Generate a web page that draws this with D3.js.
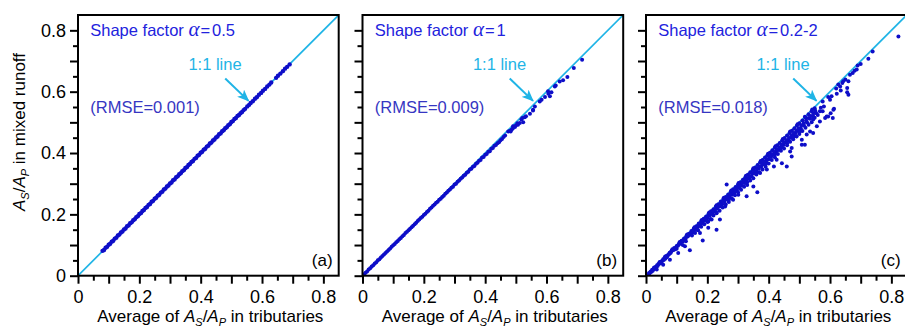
<!DOCTYPE html>
<html><head><meta charset="utf-8">
<script src="https://cdn.jsdelivr.net/npm/d3@7"></script>
<style>
body{margin:0;background:#fff}
svg{display:block}
text{font-family:"Liberation Sans",Arial,Helvetica,sans-serif}
</style>
</head><body>
<svg id="chart" width="905" height="328"></svg>
<script>
// ---------------- DATA ----------------
const majorTicks = [0, 0.1, 0.2, 0.3, 0.4, 0.5, 0.6, 0.7, 0.8];
const minorTicks = [0.05, 0.15, 0.25, 0.35, 0.45, 0.55, 0.65, 0.75];
const labelledTicks = [0, 0.2, 0.4, 0.6, 0.8];
const tickLabels = ["0", "0.2", "0.4", "0.6", "0.8"];
const panelLetters = ["(a)", "(b)", "(c)"];
const shapeFactorValues = ["0.5", "1", "0.2-2"];
const rmseValues = ["0.001", "0.009", "0.018"];

// Panel (a): alpha = 0.5  [average in tributaries, mixed runoff]
const pointsA = [
[0.080,0.081],[0.085,0.084],[0.090,0.091],[0.095,0.094],[0.100,0.101],[0.105,0.104],[0.110,0.111],[0.115,0.114],
[0.120,0.121],[0.125,0.124],[0.130,0.131],[0.135,0.134],[0.140,0.141],[0.145,0.144],[0.150,0.151],[0.155,0.154],
[0.160,0.161],[0.165,0.164],[0.170,0.171],[0.175,0.174],[0.180,0.181],[0.185,0.184],[0.190,0.191],[0.195,0.194],
[0.200,0.201],[0.205,0.204],[0.210,0.211],[0.215,0.214],[0.220,0.221],[0.225,0.224],[0.230,0.231],[0.235,0.234],
[0.240,0.241],[0.245,0.244],[0.250,0.251],[0.255,0.254],[0.260,0.261],[0.265,0.264],[0.270,0.271],[0.275,0.274],
[0.280,0.281],[0.285,0.284],[0.290,0.291],[0.295,0.294],[0.300,0.301],[0.305,0.304],[0.310,0.311],[0.315,0.314],
[0.320,0.321],[0.325,0.324],[0.330,0.331],[0.335,0.334],[0.340,0.341],[0.345,0.344],[0.350,0.351],[0.355,0.354],
[0.360,0.361],[0.365,0.364],[0.370,0.371],[0.375,0.374],[0.380,0.381],[0.385,0.384],[0.390,0.391],[0.395,0.394],
[0.400,0.401],[0.405,0.404],[0.410,0.411],[0.415,0.414],[0.420,0.421],[0.425,0.424],[0.430,0.431],[0.435,0.434],
[0.440,0.441],[0.445,0.444],[0.450,0.451],[0.455,0.454],[0.460,0.461],[0.465,0.464],[0.470,0.471],[0.475,0.474],
[0.480,0.481],[0.485,0.484],[0.490,0.491],[0.495,0.494],[0.500,0.501],[0.505,0.504],[0.510,0.511],[0.515,0.514],
[0.520,0.521],[0.525,0.524],[0.530,0.530],[0.535,0.534],[0.540,0.540],[0.545,0.544],
[0.552,0.552],[0.558,0.557],[0.563,0.563],[0.570,0.569],[0.577,0.577],[0.583,0.582],[0.590,0.590],[0.597,0.596],
[0.603,0.603],[0.610,0.609],[0.617,0.617],[0.624,0.623],[0.630,0.630],[0.646,0.645],[0.652,0.652],[0.660,0.659],
[0.668,0.667],[0.675,0.675],[0.682,0.681],[0.690,0.689]
];

// Panel (b): alpha = 1
const pointsB = [
[0.005,0.005],[0.010,0.010],[0.015,0.014],[0.020,0.020],[0.025,0.024],[0.030,0.030],[0.035,0.034],[0.040,0.040],
[0.045,0.044],[0.050,0.050],[0.055,0.054],[0.060,0.059],[0.065,0.064],[0.070,0.069],[0.075,0.074],[0.080,0.079],
[0.085,0.084],[0.090,0.089],[0.095,0.094],[0.100,0.099],[0.105,0.103],[0.110,0.109],[0.115,0.113],[0.120,0.119],
[0.125,0.123],[0.130,0.129],[0.135,0.133],[0.140,0.139],[0.145,0.143],[0.150,0.148],[0.155,0.153],[0.160,0.158],
[0.165,0.163],[0.170,0.168],[0.175,0.173],[0.180,0.178],[0.185,0.183],[0.190,0.188],[0.195,0.192],[0.200,0.198],
[0.205,0.202],[0.210,0.208],[0.215,0.212],[0.220,0.218],[0.225,0.222],[0.230,0.228],[0.235,0.232],[0.240,0.238],
[0.245,0.241],[0.250,0.248],[0.255,0.251],[0.260,0.257],[0.265,0.261],[0.270,0.267],[0.275,0.271],[0.280,0.277],
[0.285,0.281],[0.290,0.287],[0.295,0.290],[0.300,0.297],[0.305,0.300],[0.310,0.306],[0.315,0.310],[0.320,0.316],
[0.325,0.320],[0.330,0.326],[0.335,0.329],[0.340,0.336],[0.345,0.339],[0.350,0.346],[0.355,0.349],[0.360,0.355],
[0.365,0.358],[0.370,0.365],[0.375,0.368],[0.380,0.375],[0.385,0.377],[0.390,0.385],[0.395,0.387],[0.400,0.394],
[0.405,0.397],[0.410,0.404],[0.415,0.406],[0.420,0.414],[0.425,0.416],[0.430,0.424],[0.435,0.426],[0.440,0.432],
[0.445,0.435],[0.450,0.442],[0.455,0.446],[0.460,0.452],[0.465,0.457],
[0.475,0.470],[0.480,0.472],[0.483,0.470],[0.486,0.476],[0.490,0.480],[0.491,0.487],[0.497,0.485],[0.500,0.490],
[0.505,0.497],[0.507,0.492],[0.513,0.498],[0.518,0.509],[0.521,0.514],[0.524,0.500],[0.529,0.517],[0.533,0.520],
[0.546,0.528],[0.556,0.539],[0.556,0.541],[0.562,0.552],[0.578,0.568],[0.584,0.574],[0.595,0.583],[0.605,0.601],
[0.606,0.593],[0.611,0.585],[0.616,0.598],[0.627,0.617],[0.630,0.620],[0.643,0.633],[0.654,0.637],[0.668,0.648],
[0.689,0.677],[0.716,0.704]
];

// Panel (c): alpha = 0.2-2
const pointsC = [
[0.005,0.004],[0.010,0.009],[0.012,0.008],[0.015,0.014],[0.018,0.013],[0.020,0.019],[0.024,0.020],[0.027,0.025],
[0.030,0.028],[0.033,0.026],[0.036,0.034],[0.040,0.037],[0.043,0.039],[0.046,0.045],[0.050,0.046],[0.053,0.048],
[0.056,0.054],[0.060,0.057],[0.063,0.055],[0.066,0.064],[0.070,0.066],[0.073,0.068],[0.077,0.075],[0.080,0.074],
[0.084,0.082],[0.088,0.083],[0.092,0.090],[0.095,0.086],[0.100,0.097],[0.104,0.098],[0.108,0.106],[0.112,0.104],
[0.116,0.114],[0.120,0.112],[0.124,0.121],[0.128,0.118],[0.132,0.130],[0.136,0.128],[0.140,0.137],[0.144,0.134],
[0.148,0.146],[0.152,0.141],[0.156,0.154],[0.160,0.150],[0.164,0.161],[0.168,0.158],[0.172,0.170],[0.176,0.163],
[0.180,0.178],[0.184,0.172],[0.188,0.186],[0.192,0.180],[0.196,0.193],[0.200,0.187],[0.204,0.202],[0.208,0.196],
[0.212,0.210],[0.216,0.203],[0.220,0.217],[0.224,0.209],[0.228,0.226],[0.232,0.218],[0.236,0.233],[0.240,0.226],
[0.244,0.242],[0.248,0.233],[0.252,0.250],[0.256,0.240],[0.260,0.257],[0.264,0.249],[0.268,0.265],[0.272,0.255],
[0.276,0.273],[0.280,0.264],[0.284,0.282],[0.288,0.270],[0.292,0.289],[0.296,0.279],[0.300,0.297],[0.304,0.286],
[0.308,0.305],[0.312,0.293],[0.316,0.313],[0.320,0.302],[0.324,0.321],[0.328,0.309],[0.332,0.329],[0.336,0.318],
[0.340,0.337],[0.344,0.324],[0.348,0.345],[0.352,0.333],[0.356,0.353],[0.360,0.340],[0.364,0.361],[0.368,0.349],
[0.372,0.369],[0.376,0.356],[0.380,0.377],[0.384,0.364],[0.388,0.385],[0.392,0.371],[0.396,0.393],[0.400,0.380],
[0.404,0.401],[0.408,0.388],[0.412,0.409],[0.416,0.395],[0.420,0.417],[0.424,0.404],[0.428,0.425],[0.432,0.410],
[0.436,0.433],[0.440,0.420],[0.444,0.441],[0.448,0.426],[0.452,0.449],[0.456,0.435],[0.460,0.457],[0.464,0.442],
[0.468,0.465],[0.472,0.450],[0.476,0.473],[0.480,0.458],[0.484,0.481],[0.488,0.465],[0.492,0.489],[0.496,0.472],
[0.500,0.497],[0.505,0.480],[0.510,0.506],[0.515,0.490],[0.520,0.516],[0.525,0.500],[0.530,0.526],[0.535,0.512],
[0.540,0.536],[0.545,0.520],[0.550,0.546],[0.555,0.530],
[0.022,0.016],[0.038,0.032],[0.048,0.041],[0.058,0.051],[0.068,0.060],[0.075,0.070],[0.082,0.078],[0.090,0.085],
[0.098,0.092],[0.106,0.101],[0.114,0.109],[0.122,0.115],[0.130,0.124],[0.138,0.131],[0.146,0.139],[0.154,0.147],
[0.162,0.155],[0.170,0.163],[0.178,0.171],[0.186,0.178],[0.194,0.186],[0.202,0.194],[0.210,0.201],[0.218,0.210],
[0.226,0.217],[0.234,0.225],[0.242,0.232],[0.250,0.241],[0.258,0.248],[0.266,0.256],[0.274,0.263],[0.282,0.272],
[0.290,0.279],[0.298,0.287],[0.306,0.294],[0.314,0.303],[0.322,0.310],[0.330,0.318],[0.338,0.325],[0.346,0.334],
[0.354,0.341],[0.362,0.349],[0.370,0.356],[0.378,0.365],[0.386,0.372],[0.394,0.380],[0.402,0.387],[0.410,0.396],
[0.418,0.403],[0.426,0.411],[0.434,0.418],[0.442,0.427],[0.450,0.434],[0.458,0.442],[0.466,0.449],[0.474,0.458],
[0.482,0.465],[0.490,0.473],[0.498,0.481],[0.506,0.490],[0.514,0.497],[0.522,0.506],[0.530,0.514],[0.538,0.521],
[0.546,0.530],[0.552,0.538],
[0.026,0.026],[0.044,0.044],[0.062,0.062],[0.086,0.086],[0.110,0.110],[0.134,0.134],[0.158,0.158],[0.182,0.182],
[0.206,0.206],[0.230,0.230],[0.254,0.254],[0.278,0.278],[0.302,0.302],[0.326,0.326],[0.350,0.350],[0.374,0.374],
[0.398,0.398],[0.422,0.422],[0.446,0.446],[0.470,0.470],[0.494,0.494],[0.518,0.518],[0.542,0.542],
[0.100,0.088],[0.130,0.112],[0.150,0.131],[0.170,0.148],[0.190,0.168],[0.210,0.185],[0.230,0.205],[0.250,0.222],
[0.270,0.240],[0.290,0.262],[0.310,0.280],[0.330,0.296],[0.350,0.318],[0.370,0.337],[0.390,0.355],[0.410,0.377],
[0.430,0.397],[0.450,0.415],[0.470,0.437],[0.490,0.455],[0.510,0.472],[0.530,0.492],[0.220,0.196],[0.260,0.232],
[0.340,0.310],[0.380,0.346],[0.420,0.386],[0.460,0.425],[0.480,0.445],[0.440,0.407],[0.320,0.290],[0.280,0.252],
[0.120,0.100],[0.160,0.139],[0.180,0.160],[0.200,0.175],[0.240,0.212],[0.270,0.248],[0.300,0.272],[0.330,0.305],
[0.360,0.330],[0.390,0.364],[0.400,0.366],[0.420,0.395],[0.440,0.418],[0.460,0.432],[0.480,0.452],[0.500,0.462],
[0.520,0.482],[0.540,0.500],[0.550,0.515],[0.560,0.524],[0.570,0.548],[0.580,0.552],[0.600,0.574],[0.620,0.610],
[0.640,0.628],[0.650,0.640],[0.680,0.668],[0.690,0.685],[0.700,0.690],
[0.823,0.780],[0.739,0.731],[0.725,0.707],[0.687,0.672],[0.674,0.661],[0.665,0.655],[0.660,0.634],[0.643,0.634],
[0.633,0.617],[0.627,0.623],[0.656,0.612],[0.656,0.598],[0.660,0.590],[0.635,0.604],[0.622,0.593],[0.605,0.585],
[0.594,0.583],[0.576,0.568],[0.613,0.544],[0.602,0.530],[0.609,0.514],[0.594,0.519],[0.576,0.536],[0.584,0.514],
[0.557,0.487],[0.567,0.503],[0.545,0.509],[0.524,0.460],[0.508,0.427],[0.491,0.454],[0.475,0.416],
[0.363,0.272],[0.328,0.259],[0.263,0.297],[0.230,0.150],[0.241,0.183],[0.185,0.115],[0.143,0.083],[0.203,0.156],
[0.203,0.177],[0.611,0.541],[0.589,0.519],[0.567,0.536],[0.475,0.389],[0.470,0.405],[0.459,0.356],[0.443,0.367],
[0.426,0.378],[0.417,0.356],[0.404,0.389],[0.394,0.346],[0.372,0.335],[0.508,0.443],[0.518,0.427],[0.502,0.470],
[0.535,0.470],[0.545,0.465],[0.350,0.291],[0.326,0.302],[0.301,0.264],[0.284,0.248],[0.258,0.226],[0.230,0.204],
[0.214,0.183],[0.176,0.139],[0.165,0.150],[0.127,0.096],[0.105,0.074],[0.078,0.052],[0.056,0.036],[0.035,0.020]
];

const panelPoints = [pointsA, pointsB, pointsC];

// ---------------- LAYOUT / STYLE ----------------
const panelLefts = [78, 362.5, 646];
const panelTop = 15;
const domainMax = 0.85;
const plotSize = 260.7;
const cyan = "#1fb4e6";
const blueText = "#2222dd";
const rmseBlue = "#3636c2";
const pointBlue = "#0e0ec8";

const svg = d3.select("#chart");
const defs = svg.append("defs");
defs.append("marker")
  .attr("id", "arrowhead")
  .attr("viewBox", "0 0 12 10")
  .attr("refX", 11).attr("refY", 5)
  .attr("markerWidth", 12).attr("markerHeight", 10)
  .attr("markerUnits", "userSpaceOnUse")
  .attr("orient", "auto")
  .append("path").attr("d", "M0,0 L12,5 L0,10 L3,5 z").attr("fill", cyan);

const x = d3.scaleLinear().domain([0, domainMax]).range([0, plotSize]);
const y = d3.scaleLinear().domain([0, domainMax]).range([plotSize, 0]);

function fmt(d) {
  const i = labelledTicks.findIndex(v => Math.abs(v - d) < 1e-9);
  return i >= 0 ? tickLabels[i] : "";
}

panelPoints.forEach((pts, i) => {
  const g = svg.append("g").attr("transform", `translate(${panelLefts[i]},${panelTop})`);
  const clipId = "clip" + i;
  defs.append("clipPath").attr("id", clipId)
    .append("rect").attr("x", 0).attr("y", 0).attr("width", plotSize).attr("height", plotSize);

  const inner = g.append("g").attr("clip-path", `url(#${clipId})`);
  inner.append("line")
    .attr("x1", x(0)).attr("y1", y(0)).attr("x2", x(domainMax)).attr("y2", y(domainMax))
    .attr("stroke", cyan).attr("stroke-width", 1.7);
  inner.selectAll("circle").data(pts).join("circle")
    .attr("cx", d => x(d[0])).attr("cy", d => y(d[1]))
    .attr("r", i === 0 ? 2.2 : 2.0)
    .attr("fill", pointBlue);

  const tickFont = 18;
  const xMajor = g.append("g").attr("transform", `translate(0,${plotSize})`)
    .call(d3.axisBottom(x).tickValues(majorTicks).tickSize(8).tickPadding(7).tickFormat(fmt));
  const xMinor = g.append("g").attr("transform", `translate(0,${plotSize})`)
    .call(d3.axisBottom(x).tickValues(minorTicks).tickSize(5).tickFormat(""));
  const yMajor = g.append("g")
    .call(d3.axisLeft(y).tickValues(majorTicks).tickSize(8).tickPadding(4).tickFormat(i === 0 ? fmt : ""));
  const yMinor = g.append("g")
    .call(d3.axisLeft(y).tickValues(minorTicks).tickSize(5).tickFormat(""));
  [xMajor, xMinor, yMajor, yMinor].forEach(a => {
    a.select(".domain").remove();
    a.selectAll(".tick line").attr("stroke", "#000").attr("stroke-width", 2);
    a.selectAll(".tick text").attr("font-size", tickFont).attr("fill", "#000")
      .attr("font-family", '"Liberation Sans",Arial,sans-serif');
  });

  g.append("rect").attr("x", 0).attr("y", 0).attr("width", plotSize).attr("height", plotSize)
    .attr("fill", "none").attr("stroke", "#000").attr("stroke-width", 2);

  const t = g.append("text").attr("x", x(0.04)).attr("y", y(0.783))
    .attr("font-size", 16.5).attr("fill", blueText);
  t.append("tspan").text("Shape factor ");
  t.append("tspan").text("α").attr("font-family", '"Liberation Serif","Times New Roman",serif')
    .attr("font-style", "italic").attr("font-size", 21);
  t.append("tspan").text("=").attr("dx", 1);
  t.append("tspan").text(shapeFactorValues[i]).attr("dx", 2);

  g.append("text").attr("x", x(0.04)).attr("y", y(0.531))
    .attr("font-size", 16.5).attr("fill", rmseBlue)
    .text(`(RMSE=${rmseValues[i]})`);

  g.append("text").attr("x", x(0.36)).attr("y", y(0.672))
    .attr("font-size", 16.5).attr("fill", cyan).text("1:1 line");
  g.append("line")
    .attr("x1", x(0.48)).attr("y1", y(0.643)).attr("x2", x(0.556)).attr("y2", y(0.57))
    .attr("stroke", cyan).attr("stroke-width", 2).attr("marker-end", "url(#arrowhead)");

  g.append("text").attr("x", x(0.83)).attr("y", y(0.03))
    .attr("text-anchor", "end").attr("font-size", 17).attr("fill", "#000")
    .text(panelLetters[i]);

  const xt = g.append("text").attr("x", plotSize / 2 + 2).attr("y", 322 - panelTop)
    .attr("text-anchor", "middle").attr("font-size", 17).attr("fill", "#000");
  xt.append("tspan").text("Average of ");
  xt.append("tspan").text("A").attr("font-style", "italic");
  xt.append("tspan").text("S").attr("font-style", "italic").attr("font-size", 11).attr("dy", 4);
  xt.append("tspan").text("/").attr("dy", -4);
  xt.append("tspan").text("A").attr("font-style", "italic");
  xt.append("tspan").text("P").attr("font-style", "italic").attr("font-size", 11).attr("dy", 4);
  xt.append("tspan").text(" in tributaries").attr("dy", -4);

  if (i === 0) {
    const yt = g.append("text")
      .attr("transform", `translate(${25 - panelLefts[0]},${132 - panelTop}) rotate(-90)`)
      .attr("text-anchor", "middle").attr("font-size", 17).attr("fill", "#000");
    yt.append("tspan").text("A").attr("font-style", "italic");
    yt.append("tspan").text("S").attr("font-style", "italic").attr("font-size", 11).attr("dy", 4);
    yt.append("tspan").text("/").attr("dy", -4);
    yt.append("tspan").text("A").attr("font-style", "italic");
    yt.append("tspan").text("P").attr("font-style", "italic").attr("font-size", 11).attr("dy", 4);
    yt.append("tspan").text(" in mixed runoff").attr("dy", -4);
  }
});
</script>
</body></html>
